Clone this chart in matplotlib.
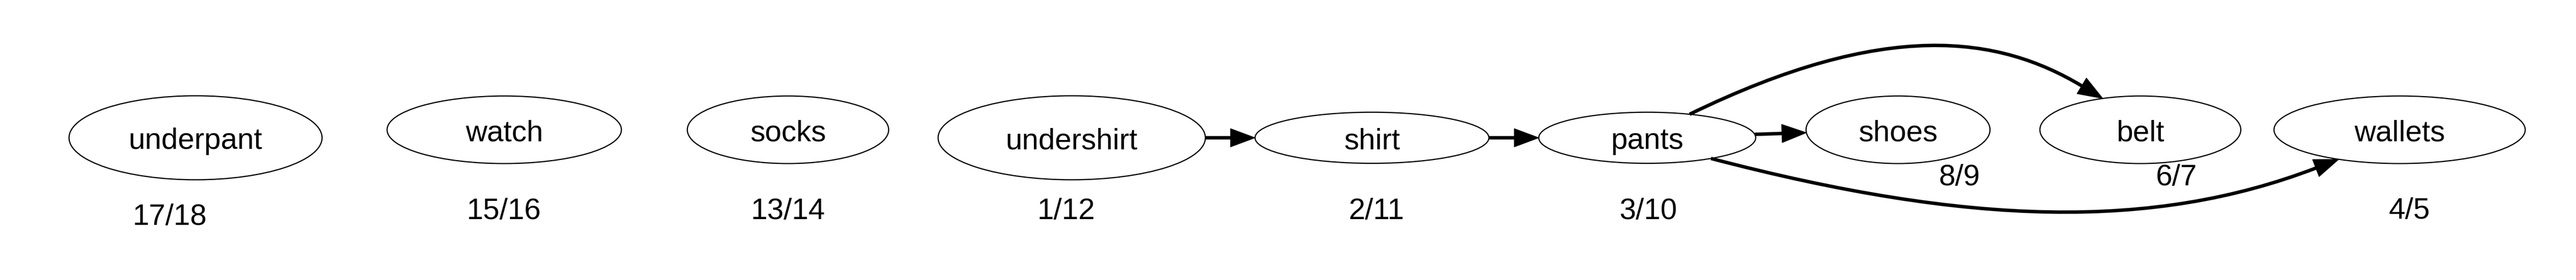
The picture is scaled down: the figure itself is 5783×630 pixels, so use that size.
import numpy as np
import matplotlib
matplotlib.use("Agg")
import matplotlib.pyplot as plt
from matplotlib.patches import Ellipse, Polygon, PathPatch
from matplotlib.path import Path

# graph data
nodes = ["underpant", "watch", "socks", "undershirt", "shirt",
         "pants", "shoes", "belt", "wallets"]
times = ["17/18", "15/16", "13/14", "1/12", "2/11",
         "3/10", "8/9", "6/7", "4/5"]
edges = [("undershirt", "shirt"), ("shirt", "pants"), ("pants", "shoes"),
         ("pants", "belt"), ("pants", "wallets")]

# layout (pixels)
node_x = [439, 1132, 1769, 2406, 3080, 3698, 4261, 4805, 5387]
node_y = [310, 292, 292, 310, 310, 310, 292, 292, 292]
node_w = [568, 526, 452, 600, 525, 487, 413, 451, 564]
node_h = [189, 152, 152, 189, 115, 115, 152, 152, 152]
label_x = [381, 1131, 1769, 2394, 3090, 3700, 4398, 4886, 5409]
label_base = [506, 493, 493, 493, 493, 493, 417, 417, 492]

# curved edges: start angle, end angle (deg, on ellipse), tangent at start/end, control lengths
curves = {
    ("pants", "belt"): (-67, -112, -26, 31, 492, 217),
    ("pants", "wallets"): (54, 119, 14.7, -21, 600, 391),
}

W, H = 5783, 630
FS = 48
NODE_LW = 1.9
EDGE_LW = 5.6
HEAD_LEN = 55
HEAD_HALF = 20.5

pos = {n: i for i, n in enumerate(nodes)}

fig = plt.figure(figsize=(W / 100, H / 100), dpi=100)
ax = fig.add_axes([0, 0, 1, 1])
ax.set_xlim(0, W)
ax.set_ylim(H, 0)
ax.axis("off")


def on_ellipse(i, deg):
    t = np.radians(deg)
    return np.array([node_x[i] + node_w[i] / 2 * np.cos(t),
                     node_y[i] + node_h[i] / 2 * np.sin(t)])


def clip(i, p_to):
    # point where the line from the centre of node i towards p_to leaves the ellipse
    c = np.array([node_x[i], node_y[i]], float)
    d = np.array(p_to, float) - c
    a, b = node_w[i] / 2, node_h[i] / 2
    s = 1 / np.sqrt((d[0] / a) ** 2 + (d[1] / b) ** 2)
    return c + s * d


def head(tip, u):
    base = tip - HEAD_LEN * u
    n = np.array([-u[1], u[0]])
    ax.add_patch(Polygon([tip, base + HEAD_HALF * n, base - HEAD_HALF * n],
                         closed=True, facecolor="black", edgecolor="black",
                         linewidth=1, zorder=3))
    return base


for i, n in enumerate(nodes):
    ax.add_patch(Ellipse((node_x[i], node_y[i]), node_w[i], node_h[i],
                         facecolor="none", edgecolor="black",
                         linewidth=NODE_LW, zorder=2))
    ax.text(node_x[i], node_y[i] + 25, n, ha="center", va="baseline",
            fontsize=FS, family="Liberation Sans", color="black")
    ax.text(label_x[i], label_base[i], times[i], ha="center", va="baseline",
            fontsize=FS, family="Liberation Sans", color="black")

for s, t in edges:
    i, j = pos[s], pos[t]
    if (s, t) in curves:
        a0, a1, g0, g1, d1, d2 = curves[(s, t)]
        p0 = on_ellipse(i, a0)
        tip = on_ellipse(j, a1)
        u0 = np.array([np.cos(np.radians(g0)), np.sin(np.radians(g0))])
        u1 = np.array([np.cos(np.radians(g1)), np.sin(np.radians(g1))])
        base = head(tip, u1)
        verts = [p0, p0 + d1 * u0, base - d2 * u1, base]
        codes = [Path.MOVETO, Path.CURVE4, Path.CURVE4, Path.CURVE4]
    else:
        ci = np.array([node_x[i], node_y[i]], float)
        cj = np.array([node_x[j], node_y[j]], float)
        p0 = clip(i, cj)
        tip = clip(j, ci)
        u = (tip - p0) / np.linalg.norm(tip - p0)
        base = head(tip, u)
        verts = [p0, base]
        codes = [Path.MOVETO, Path.LINETO]
    ax.add_patch(PathPatch(Path(verts, codes), facecolor="none",
                           edgecolor="black", linewidth=EDGE_LW,
                           capstyle="butt", zorder=3))

fig.savefig("out.png", dpi=100, facecolor="white")
